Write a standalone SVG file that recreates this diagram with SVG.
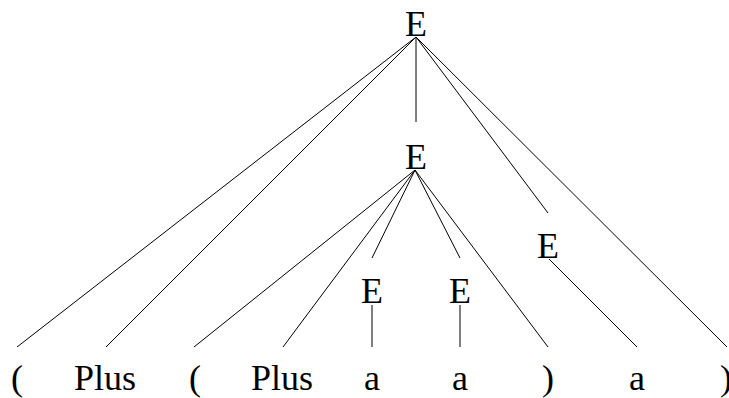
<svg xmlns="http://www.w3.org/2000/svg" width="729" height="398" viewBox="0 0 729 398">
<style>
.t{font-size:36px;fill:#000;text-anchor:middle}
line{stroke:#000;stroke-width:1}
</style>
<rect width="729" height="398" fill="#fff"/>
<g id="connectors">
<line x1="416" y1="37" x2="17" y2="347"/>
<line x1="416" y1="37" x2="106" y2="347"/>
<line x1="416" y1="37" x2="416" y2="122"/>
<line x1="416" y1="37" x2="548" y2="213"/>
<line x1="416" y1="37" x2="727" y2="347"/>
<line x1="415" y1="170" x2="194" y2="347"/>
<line x1="415" y1="170" x2="283" y2="347"/>
<line x1="415" y1="170" x2="372" y2="258"/>
<line x1="415" y1="170" x2="460" y2="258"/>
<line x1="415" y1="170" x2="548" y2="347"/>
<line x1="372" y1="305" x2="372" y2="347"/>
<line x1="460" y1="305" x2="460" y2="347"/>
<line x1="549" y1="259" x2="637" y2="347"/>
</g>
<g font-family="Liberation Serif, DejaVu Serif, serif">
<g id="n1"><text class="t" x="416" y="36">E</text></g>
<g id="n2"><text class="t" x="416" y="169">E</text></g>
<g id="n3"><text class="t" x="548" y="258">E</text></g>
<g id="n4"><text class="t" x="372" y="303">E</text></g>
<g id="n5"><text class="t" x="460" y="303">E</text></g>
<g id="t1"><text class="t" x="17" y="390">(</text></g>
<g id="t2"><text class="t" x="105" y="390">Plus</text></g>
<g id="t3"><text class="t" x="195" y="390">(</text></g>
<g id="t4"><text class="t" x="282" y="390">Plus</text></g>
<g id="t5"><text class="t" x="372" y="390">a</text></g>
<g id="t6"><text class="t" x="460" y="390">a</text></g>
<g id="t7"><text class="t" x="548" y="390">)</text></g>
<g id="t8"><text class="t" x="637" y="390">a</text></g>
<g id="t9"><text class="t" x="726" y="390">)</text></g>
</g>
</svg>
